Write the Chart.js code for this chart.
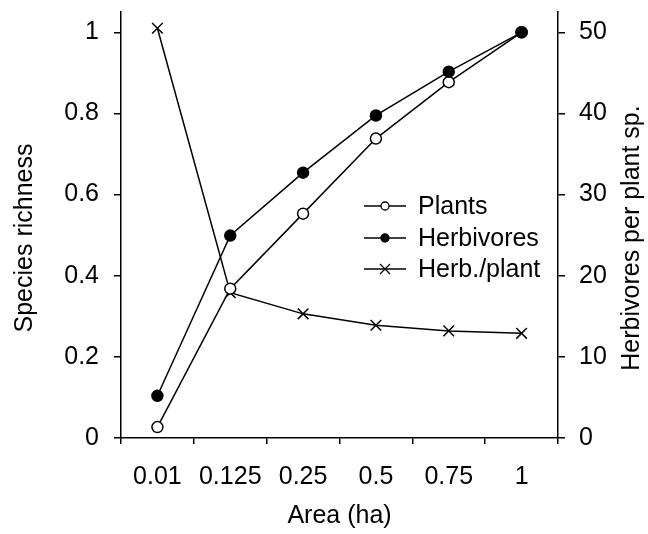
<!DOCTYPE html>
<html>
<head>
<meta charset="utf-8">
<script src="https://cdn.jsdelivr.net/npm/chart.js@4/dist/chart.umd.min.js"></script>
<style>
  html, body { margin: 0; padding: 0; background: #fff; }
  #wrap { width: 648px; height: 534px; position: relative; }
</style>
</head>
<body>
<div id="wrap"><canvas id="c" width="648" height="534"></canvas></div>
<script>
const categories = ['0.01', '0.125', '0.25', '0.5', '0.75', '1'];
const plants = [0.027, 0.368, 0.553, 0.738, 0.877, 1.0];
const herbivores = [0.104, 0.499, 0.654, 0.795, 0.903, 1.0];
const herbPerPlant = [50.5, 17.9, 15.3, 13.9, 13.2, 12.9];
const leftTicks = [0, 0.2, 0.4, 0.6, 0.8, 1];
const rightTicks = [0, 10, 20, 30, 40, 50];
const seriesNames = ['Plants', 'Herbivores', 'Herb./plant'];
const xTitle = 'Area (ha)';
const yLeftTitle = 'Species richness';
const yRightTitle = 'Herbivores per plant sp.';

const FONT = '"Liberation Sans", Arial, Helvetica, sans-serif';
const FS = 25;

const extras = {
  id: 'extras',
  afterDraw(chart) {
    const ctx = chart.ctx;
    ctx.save();
    ctx.fillStyle = '#000';
    ctx.strokeStyle = '#000';
    ctx.font = FS + 'px ' + FONT;
    ctx.textBaseline = 'middle';
    const ca = chart.chartArea;
    const midY = 238;
    ctx.save();
    ctx.translate(25, midY);
    ctx.rotate(-Math.PI / 2);
    ctx.textAlign = 'center';
    ctx.fillText(yLeftTitle, 0, 0);
    ctx.restore();
    ctx.save();
    ctx.translate(632, midY);
    ctx.rotate(-Math.PI / 2);
    ctx.textAlign = 'center';
    ctx.fillText(yRightTitle, 0, 0);
    ctx.restore();
    ctx.textAlign = 'center';
    ctx.fillText(xTitle, (ca.left + ca.right) / 2, 516);
    // legend
    const rows = [206, 238, 269];
    const x0 = 364, x1 = 406, mx = 385;
    ctx.textAlign = 'left';
    seriesNames.forEach((name, i) => {
      const y = rows[i];
      ctx.lineWidth = 1.5;
      ctx.beginPath();
      ctx.moveTo(x0, y);
      ctx.lineTo(x1, y);
      ctx.stroke();
      ctx.lineWidth = 1.3;
      if (i === 2) {
        ctx.beginPath();
        ctx.moveTo(mx - 5, y - 5); ctx.lineTo(mx + 5, y + 5);
        ctx.moveTo(mx + 5, y - 5); ctx.lineTo(mx - 5, y + 5);
        ctx.stroke();
      } else {
        ctx.beginPath();
        ctx.arc(mx, y, 4, 0, Math.PI * 2);
        ctx.fillStyle = i === 0 ? '#fff' : '#000';
        ctx.fill();
        ctx.stroke();
        ctx.fillStyle = '#000';
      }
      ctx.fillText(name, 418, y + 1);
    });
    ctx.restore();
  }
};

const tickFont = { family: FONT, size: FS };

function noPad(s) { s.paddingTop = 0; s.paddingBottom = 0; }

new Chart(document.getElementById('c'), {
  type: 'line',
  data: {
    labels: categories,
    datasets: [
      {
        label: seriesNames[0], data: plants, yAxisID: 'y', order: 1,
        borderColor: '#000', borderWidth: 1.5, tension: 0,
        pointStyle: 'circle', pointRadius: 5.5, pointBorderWidth: 1.5,
        pointBackgroundColor: '#fff', pointBorderColor: '#000', clip: false
      },
      {
        label: seriesNames[1], data: herbivores, yAxisID: 'y', order: 0,
        borderColor: '#000', borderWidth: 1.5, tension: 0,
        pointStyle: 'circle', pointRadius: 5.5, pointBorderWidth: 1.5,
        pointBackgroundColor: '#000', pointBorderColor: '#000', clip: false
      },
      {
        label: seriesNames[2], data: herbPerPlant, yAxisID: 'y1', order: 2,
        borderColor: '#000', borderWidth: 1.5, tension: 0,
        pointStyle: 'crossRot', pointRadius: 7.5, pointBorderWidth: 1.5,
        pointBackgroundColor: '#000', pointBorderColor: '#000', clip: false
      }
    ]
  },
  options: {
    responsive: false,
    animation: false,
    devicePixelRatio: 1,
    layout: { padding: { left: 0, right: 0, top: 12, bottom: 0 } },
    plugins: { legend: { display: false }, tooltip: { enabled: false } },
    scales: {
      x: {
        type: 'category',
        offset: true,
        grid: { offset: true, drawOnChartArea: false, drawTicks: true, tickLength: 6, color: '#000', lineWidth: 1.5 },
        border: { display: true, color: '#000', width: 1.5 },
        ticks: { font: tickFont, color: '#000', padding: 18, maxRotation: 0, autoSkip: false },
        afterFit(s) { s.height = 96; s.paddingLeft = 0; s.paddingRight = 0; }
      },
      y: {
        position: 'left',
        min: 0, max: 1.05,
        afterBuildTicks(s) { s.ticks = leftTicks.map(v => ({ value: v })); },
        grid: { drawOnChartArea: false, tickLength: 7, color: '#000', lineWidth: 1.5 },
        border: { display: true, color: '#000', width: 1.5 },
        ticks: { font: tickFont, color: '#000', padding: 15, callback: v => String(v) },
        afterFit(s) { s.width = 121; noPad(s); }
      },
      y1: {
        position: 'right',
        min: 0, max: 52.5,
        afterBuildTicks(s) { s.ticks = rightTicks.map(v => ({ value: v })); },
        grid: { drawOnChartArea: false, tickLength: 7, color: '#000', lineWidth: 1.5 },
        border: { display: true, color: '#000', width: 1.5 },
        ticks: { font: tickFont, color: '#000', padding: 14, callback: v => String(v) },
        afterFit(s) { s.width = 90; noPad(s); }
      }
    }
  },
  plugins: [extras]
});
</script>
</body>
</html>
